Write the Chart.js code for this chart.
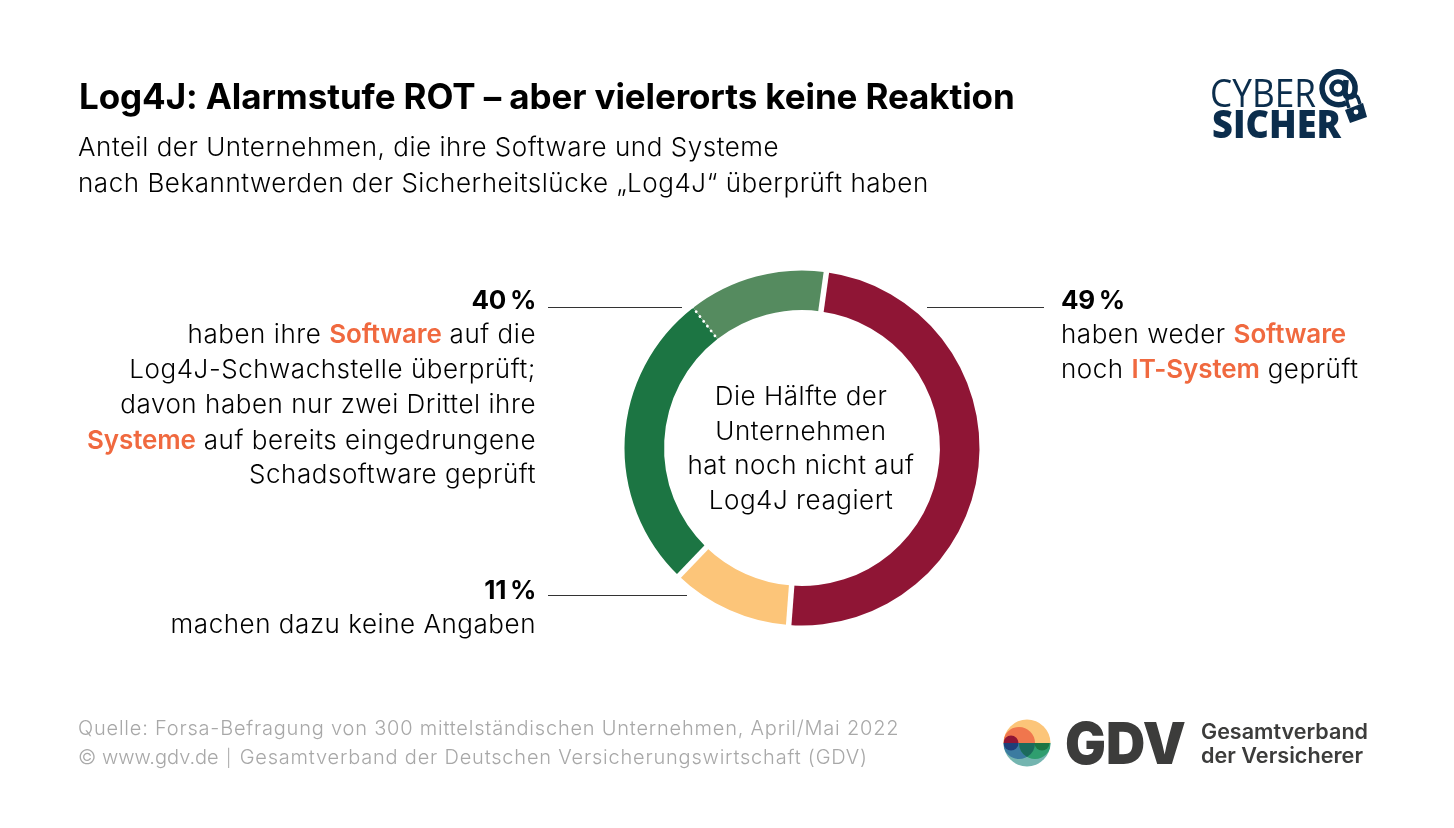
<!DOCTYPE html>
<html lang="de"><head><meta charset="utf-8">
<script src="https://cdn.jsdelivr.net/npm/chart.js@4"></script>
<style>
html,body{margin:0;padding:0;background:#fff;width:1454px;height:828px;overflow:hidden}
body{font-family:Inter,"Noto Sans",sans-serif;color:#000;position:relative}
#c{position:absolute;left:0;top:0}
.t{position:absolute;white-space:nowrap;line-height:36px;height:36px;font-size:26px;font-weight:300;letter-spacing:.54px;transform:translateY(-18px)}
.r{transform:translate(-100%,-18px)}.m{transform:translate(-50%,-18px)}
b{font-weight:700;letter-spacing:-.3px}.o{color:#f0693f;font-weight:600;letter-spacing:-.1px}
svg{position:absolute;left:0;top:0}
</style></head><body>
<canvas id="c" width="1454" height="828"></canvas>
<svg width="1454" height="828" viewBox="0 0 1454 828">
 <defs>
  <clipPath id="gc"><circle cx="1027" cy="743" r="23.5"/></clipPath>
  <clipPath id="up"><rect x="1000" y="715" width="56" height="28"/></clipPath>
  <clipPath id="lo"><rect x="1000" y="743" width="56" height="28"/></clipPath>
 </defs>
 <g font-family="'Open Sans',sans-serif" fill="#0b2d4c">
  <text x="1210" y="107" font-size="39" font-weight="400" textLength="106" lengthAdjust="spacingAndGlyphs">CYBER</text>
  <text x="1212" y="138" font-size="39" font-weight="800" textLength="129" lengthAdjust="spacingAndGlyphs">SICHER</text>
 </g>
 <g fill="none" stroke="#0b2d4c">
  <path d="M1346 103 A16.5 16.5 0 1 1 1355 90 Q1354 97 1349 97 Q1345 97 1345 92 L1346 80" stroke-width="5.5"/>
  <circle cx="1338" cy="88" r="6.5" stroke-width="4.5"/>
  <path d="M1349 108 L1347 102 a6 6 0 0 1 11 -4 L1360 104" stroke-width="3.5"/>
 </g>
 <path d="M1345 110 L1363 103 L1367 117 L1350 123 Z" fill="#0b2d4c"/>
 <circle cx="1356" cy="112" r="2.4" fill="#fff"/>
 <g clip-path="url(#gc)">
  <rect x="1000" y="715" width="56" height="28" fill="#fcc579"/>
  <rect x="1000" y="743" width="56" height="28" fill="#74b5b0"/>
  <g clip-path="url(#up)">
   <circle cx="1019" cy="743" r="16" fill="#f0764d"/>
   <circle cx="1011" cy="743" r="7.5" fill="#8f1535"/>
  </g>
  <g clip-path="url(#lo)">
   <circle cx="1019" cy="743" r="16" fill="#3b7ba0"/>
   <circle cx="1035" cy="743" r="16" fill="#2f9e6f"/>
   <path d="M1027 743 h8 a16 16 0 0 1 -8 13.9 a16 16 0 0 1 -8 -13.9z" fill="#1c6a5c"/>
   <circle cx="1011" cy="743" r="7.5" fill="#1d3f7a"/>
   <circle cx="1042" cy="743" r="7.5" fill="#1c7543"/>
  </g>
 </g>
 <g font-family="Inter,sans-serif" fill="#3c3c3b">
  <text x="1065" y="764" font-size="58" font-weight="900" textLength="121" lengthAdjust="spacingAndGlyphs">GDV</text>
  <text x="1201" y="739" font-size="21" font-weight="600" textLength="167" lengthAdjust="spacingAndGlyphs">Gesamtverband</text>
  <text x="1201" y="763" font-size="21" font-weight="600" textLength="162" lengthAdjust="spacingAndGlyphs">der Versicherer</text>
 </g>
</svg>
<div class="t" style="left:79px;top:96px;font-size:35px;font-weight:700;letter-spacing:-.1px">Log4J: Alarmstufe ROT – aber vielerorts keine Reaktion</div>
<div class="t" style="left:78px;top:147px">Anteil der Unternehmen, die ihre Software und Systeme</div>
<div class="t" style="left:78px;top:183px">nach Bekanntwerden der Sicherheitslücke „Log4J“ überprüft haben</div>

<div class="t r" style="left:536px;top:300px"><b>40&#8201;%</b></div>
<div class="t r" style="left:536px;top:334px">haben ihre <span class="o">Software</span> auf die</div>
<div class="t r" style="left:536px;top:369px">Log4J-Schwachstelle überprüft;</div>
<div class="t r" style="left:536px;top:404px">davon haben nur zwei Drittel ihre</div>
<div class="t r" style="left:536px;top:440px"><span class="o">Systeme</span> auf bereits eingedrungene</div>
<div class="t r" style="left:536px;top:474px">Schadsoftware geprüft</div>
<div class="t r" style="left:536px;top:590px"><b>11&#8201;%</b></div>
<div class="t r" style="left:536px;top:624px">machen dazu keine Angaben</div>

<div class="t" style="left:1061px;top:300px"><b>49&#8201;%</b></div>
<div class="t" style="left:1061px;top:334px">haben weder <span class="o">Software</span></div>
<div class="t" style="left:1061px;top:369px">noch <span class="o">IT-System</span> geprüft</div>

<div class="t m" style="left:801px;top:396px">Die Hälfte der</div>
<div class="t m" style="left:801px;top:431px">Unternehmen</div>
<div class="t m" style="left:801px;top:465px">hat noch nicht auf</div>
<div class="t m" style="left:801px;top:500px">Log4J reagiert</div>

<div class="t" style="left:78px;top:728px;font-size:20px;color:#a8a8a8;letter-spacing:.79px">Quelle: Forsa-Befragung von 300 mittelständischen Unternehmen, April/Mai 2022</div>
<div class="t" style="left:78px;top:757px;font-size:20px;color:#a8a8a8;letter-spacing:.8px"><span style="letter-spacing:0">© www.gdv.de</span> <span style="font-size:17px;margin:0 1px">|</span> Gesamtverband der Deutschen Versicherungswirtschaft (GDV)</div>

<script>
const categories = ["Weder Software noch IT-System geprüft","Keine Angaben","Software und Systeme geprüft","Nur Software geprüft"];
const shares = [49, 11, 27.3, 12.7];
const sliceColors = ["#8f1535","#fcc579","#1c7543","#558b5f"];

const extras = {
  id:"extras",
  afterDatasetsDraw(chart){
    const ctx = chart.ctx, arcs = chart.getDatasetMeta(0).data;
    ctx.save();
    arcs.forEach((a,i)=>{
      const cos=Math.cos(a.startAngle), sin=Math.sin(a.startAngle);
      const r0=a.innerRadius-2, r1=a.outerRadius+2;
      ctx.beginPath();
      ctx.strokeStyle="#fff";
      if(i===3){
        ctx.lineWidth=2.8; ctx.setLineDash([0.1,6]); ctx.lineCap="round";
      } else {
        ctx.lineWidth=5.5; ctx.setLineDash([]); ctx.lineCap="butt";
      }
      ctx.moveTo(a.x+r0*cos,a.y+r0*sin);
      ctx.lineTo(a.x+r1*cos,a.y+r1*sin);
      ctx.stroke();
    });
    ctx.setLineDash([]); ctx.lineCap="butt";
    ctx.strokeStyle="#333"; ctx.lineWidth=1;
    [[548,682,307.5],[927,1044,307.5],[548,687,595.5]].forEach(([x0,x1,y])=>{
      ctx.beginPath(); ctx.moveTo(x0,y); ctx.lineTo(x1,y); ctx.stroke();
    });
    ctx.restore();
  }
};

new Chart(document.getElementById("c"),{
  type:"doughnut",
  data:{labels:categories,datasets:[{data:shares,backgroundColor:sliceColors,borderWidth:0}]},
  options:{
    responsive:false,animation:false,cutout:"77.7%",rotation:7.9,
    layout:{padding:{left:624.5,right:474.5,top:270.5,bottom:202.5}},
    plugins:{legend:{display:false},tooltip:{enabled:false},title:{display:false}}
  },
  plugins:[extras]
});
</script>
</body></html>
